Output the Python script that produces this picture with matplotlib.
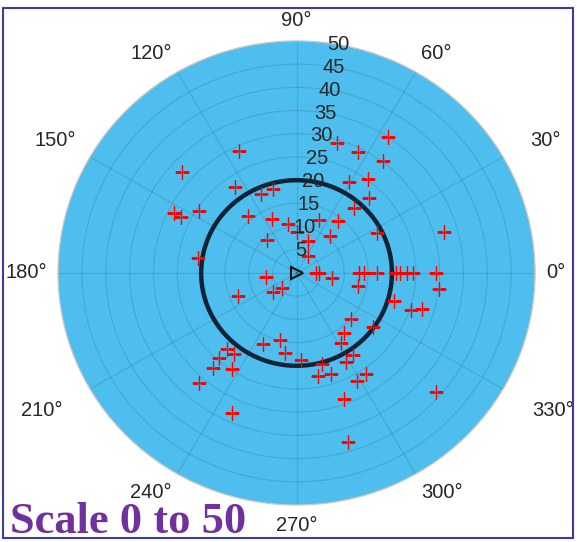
import numpy as np
import matplotlib
matplotlib.use("Agg")
import matplotlib.pyplot as plt
from matplotlib.patches import Rectangle

# Sample directions (degrees) and magnitudes
theta_deg = [114.6, 137.8, 124.8, 113.6, 105.2, 153.3, 153.5, 146.8, 129.6, 113.8,
             99.6, 89.4, 131.0, 171.1, 187.7, 70.7, 56.6, 73.1, 56.8, 63.7,
             53.1, 53.5, 60.7, 46.8, 49.3, 52.2, 67.5, 48.6, 27.1, 16.0,
             0, 0, 0, 0, 0, 0, 0, 0, 0, 0,
             351.7, 347.7, 353.4, 343.6, 341.6, 343.6, 319.1, 324.0, 307.6, 301.7,
             303.8, 298.4, 272.9, 285.3, 281.5, 288.4, 303.8, 298.6, 290.1, 318.8,
             286.5, 219.8, 226.7, 202.0, 245.4, 256.5, 262.0, 228.3, 233.1, 228.4,
             229.5, 236.8, 229.2, 245.9]
r_vals = [28.9, 32.4, 22.6, 18.6, 18.8, 28.8, 27.1, 24.4, 16.0, 12.7,
          10.7, 8.8, 9.4, 20.9, 6.5, 7.3, 4.4, 29.3, 35.0, 29.1,
          30.2, 25.2, 22.5, 22.2, 18.5, 14.2, 12.4, 10.6, 19.0, 32.2,
          4.0, 4.8, 13.1, 14.2, 16.9, 20.9, 21.7, 23.2, 24.4, 29.3,
          7.5, 13.2, 30.1, 21.3, 25.3, 27.4, 15.1, 19.8, 16.3, 17.7,
          21.3, 21.8, 18.8, 20.3, 22.7, 22.9, 26.2, 26.5, 28.9, 38.9,
          38.0, 6.5, 4.4, 13.2, 16.8, 14.9, 17.4, 21.9, 21.8, 24.5,
          26.9, 24.7, 31.3, 33.1]

ring_radius = 20
r_max = 50
r_ticks = [5, 10, 15, 20, 25, 30, 35, 40, 45, 50]
r_label_angle = 80
theta_ticks = [0, 30, 60, 90, 120, 150, 180, 210, 240, 270, 300, 330]
theta_labels = [f"{t}°" for t in theta_ticks]
title_text = "Scale 0 to 50"

plt.rcParams['font.family'] = ['Liberation Sans', 'DejaVu Sans']
text_color = '#262626'

fig = plt.figure(figsize=(5.77, 5.42), dpi=100)
ax = fig.add_axes([0.1006, 0.0683, 0.8267, 0.8561], projection='polar')
ax.set_aspect('auto')
ax.set_facecolor('#4DBEEE')
ax.set_ylim(0, r_max)
ax.set_yticks(r_ticks)
ax.set_yticklabels([])
ax.set_xticks(np.deg2rad(theta_ticks))
ax.set_xticklabels([])
ax.tick_params(length=0)
ax.grid(True, color='#262626', alpha=0.15, linewidth=0.8)
ax.spines['polar'].set_color('#c8c8c8')
ax.spines['polar'].set_linewidth(1.0)

# reference ring
ring_t = np.linspace(0, 2 * np.pi, 721)
ax.plot(ring_t, np.full_like(ring_t, ring_radius), color='#0f2236', lw=3.2, zorder=3)

# samples
ax.plot(np.deg2rad(theta_deg), r_vals, '+', color='#ff0000', ms=10, mew=1.0, zorder=4)

# origin marker
ax.plot([0], [0], '>', mfc='none', mec='#111111', ms=9, mew=1.5, zorder=5)

# radial labels
for r in r_ticks:
    ax.text(np.deg2rad(r_label_angle), r, str(r), ha='center', va='center',
            fontsize=14.5, color=text_color, zorder=6)

# angular labels; the ones near the horizontal sit beside the rim
side_offsets = {30: (27, 16), 150: (-14, 16), 210: (-27, -22), 330: (29, -22)}
gap = 11
for t, lab in zip(theta_ticks, theta_labels):
    c, s = np.cos(np.deg2rad(t)), np.sin(np.deg2rad(t))
    ha = 'left' if c > 0.1 else ('right' if c < -0.1 else 'center')
    if t in side_offsets:
        va = 'center'
        off = side_offsets[t]
    else:
        va = 'bottom' if s > 0.1 else ('top' if s < -0.1 else 'center')
        off = (gap * c, gap * s)
    ax.annotate(lab, xy=(np.deg2rad(t), r_max), xycoords='data',
                xytext=off, textcoords='offset pixels',
                ha=ha, va=va, fontsize=14.5, color=text_color,
                annotation_clip=False)

fig.text(10 / 577, 9 / 542, title_text, fontsize=32, fontweight='bold',
         family='Liberation Serif', color='#7030A0', ha='left', va='baseline')

fig.add_artist(Rectangle((3 / 577, 4 / 542), 570 / 577, 530 / 542,
                         transform=fig.transFigure, fill=False,
                         edgecolor='#3c3c9c', lw=1.5))

fig.savefig('out.png', dpi=100)
